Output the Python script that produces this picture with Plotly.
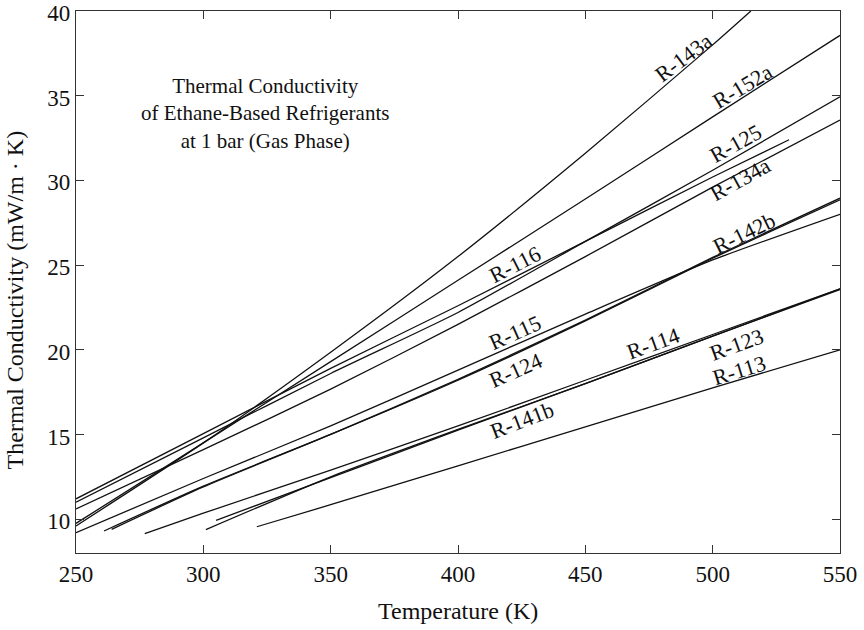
import plotly.graph_objects as go

# ---- data ----
T_R143a = [250, 300, 350, 400, 450, 500, 515]
K_R143a = [9.6, 14.5, 19.85, 25.5, 31.6, 38.0, 40.0]
T_R152a = [250, 300, 350, 400, 450, 500, 550]
K_R152a = [9.75, 14.5, 19.3, 24.1, 28.9, 33.75, 38.56]
T_R125 = [250, 300, 350, 400, 450, 500, 550]
K_R125 = [11.0, 14.8, 18.6, 22.2, 26.4, 30.6, 34.93]
T_R116 = [250, 300, 350, 400, 450, 500, 530]
K_R116 = [11.2, 15.05, 18.9, 22.6, 26.4, 30.2, 32.4]
T_R134a = [250, 300, 350, 400, 450, 500, 550]
K_R134a = [10.6, 14.1, 17.67, 21.5, 25.5, 29.6, 33.56]
T_R115 = [250, 300, 350, 400, 450, 500, 550]
K_R115 = [9.2, 12.4, 15.5, 18.8, 22.1, 25.3, 28.0]
T_R124 = [261, 300, 350, 400, 450, 500, 550]
K_R124 = [9.3, 11.95, 15.0, 18.2, 21.7, 25.4, 28.85]
T_R142b = [264, 300, 350, 400, 450, 500, 550]
K_R142b = [9.4, 11.9, 15.0, 18.25, 21.75, 25.45, 28.95]
T_R114 = [277, 300, 350, 400, 450, 500, 550]
K_R114 = [9.15, 10.35, 12.9, 15.5, 18.2, 20.9, 23.6]
T_R123 = [301, 350, 400, 450, 500, 550]
K_R123 = [9.38, 12.5, 15.3, 18.0, 20.8, 23.6]
T_R141b = [305, 350, 400, 450, 500, 550]
K_R141b = [9.93, 12.45, 15.25, 18.0, 20.8, 23.55]
T_R113 = [321, 350, 400, 450, 500, 550]
K_R113 = [9.55, 10.85, 13.15, 15.45, 17.75, 20.0]

series = [
    ("R-143a", T_R143a, K_R143a),
    ("R-152a", T_R152a, K_R152a),
    ("R-125", T_R125, K_R125),
    ("R-116", T_R116, K_R116),
    ("R-134a", T_R134a, K_R134a),
    ("R-115", T_R115, K_R115),
    ("R-124", T_R124, K_R124),
    ("R-142b", T_R142b, K_R142b),
    ("R-114", T_R114, K_R114),
    ("R-123", T_R123, K_R123),
    ("R-141b", T_R141b, K_R141b),
    ("R-113", T_R113, K_R113),
]

x_ticks = [250, 300, 350, 400, 450, 500, 550]
y_ticks = [10, 15, 20, 25, 30, 35, 40]

# label placement (data coords) and rotation
label_layout = [
    ("R-143a", 488.6, 37.26, -37),
    ("R-152a", 511.6, 35.56, -31),
    ("R-125", 509.0, 32.2, -29),
    ("R-134a", 510.8, 30.03, -29),
    ("R-142b", 512.2, 26.88, -26),
    ("R-116", 422.4, 25.03, -27),
    ("R-115", 422.4, 21.0, -24),
    ("R-124", 422.4, 18.79, -24),
    ("R-141b", 425.0, 15.85, -21),
    ("R-114", 476.6, 20.38, -20),
    ("R-123", 509.5, 20.32, -20),
    ("R-113", 510.2, 18.79, -17),
]

FONT = "Liberation Serif, Times New Roman, serif"
INK = "#111111"

fig = go.Figure()
for name, T, K in series:
    fig.add_trace(go.Scatter(
        x=T, y=K, mode="lines", name=name,
        line=dict(color=INK, width=1.3, shape="spline", smoothing=0.6),
        showlegend=False, hoverinfo="x+y+name",
    ))

for text, xv, yv, ang in label_layout:
    fig.add_annotation(x=xv, y=yv, xref="x", yref="y", text=text,
                       showarrow=False, textangle=ang,
                       font=dict(family=FONT, size=22, color=INK))

fig.add_annotation(
    x=0.247, y=0.81, xref="paper", yref="paper",
    text="Thermal Conductivity<br>of Ethane-Based Refrigerants<br>at 1 bar (Gas Phase)",
    showarrow=False, align="center", xanchor="center", yanchor="middle",
    font=dict(family=FONT, size=21, color=INK),
)

# axis titles
fig.add_annotation(
    x=0.5, y=0, xref="paper", yref="paper", xanchor="center", yanchor="middle",
    yshift=-58, text="Temperature (K)", showarrow=False,
    font=dict(family=FONT, size=24, color=INK),
)
fig.add_annotation(
    x=0, y=0.466, xref="paper", yref="paper", xanchor="center", yanchor="middle",
    xshift=-61, textangle=-90, text="Thermal Conductivity (mW/m · K)", showarrow=False,
    font=dict(family=FONT, size=24, color=INK),
)

axis_common = dict(
    showline=True, linecolor="#333333", linewidth=1.2, mirror="ticks",
    ticks="inside", ticklen=8, tickwidth=1, tickcolor="#333333",
    showgrid=False, zeroline=False, ticklabeloverflow="allow", automargin=False,
    tickfont=dict(family=FONT, size=23, color=INK),
)

fig.update_layout(
    width=864, height=630,
    margin=dict(l=76, r=24, t=11, b=77, autoexpand=False),
    paper_bgcolor="white", plot_bgcolor="white",
    xaxis=dict(range=[250, 550], tickvals=x_ticks, **axis_common),
    yaxis=dict(range=[8, 40], tickvals=y_ticks, ticklabelshift=2, **axis_common),
)

fig.write_html("out.html")
